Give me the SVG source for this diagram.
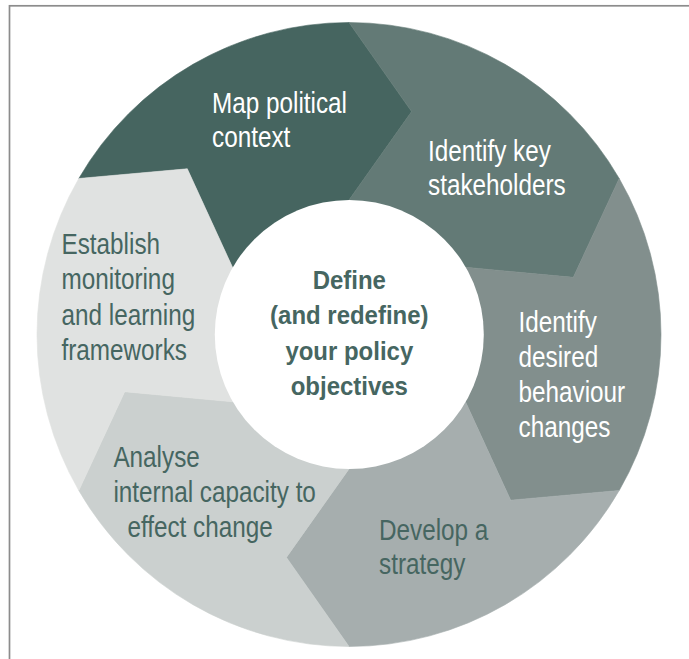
<svg xmlns="http://www.w3.org/2000/svg" width="689" height="659" viewBox="0 0 689 659">
<style>
.seg{stroke-width:0.6;stroke-linejoin:round}
.lbl{font-family:"Liberation Sans",Arial,sans-serif;font-size:30px}
.w{fill:#ffffff}
.d{fill:#466661}
.ctr{font-family:"Liberation Sans",Arial,sans-serif;font-size:25.5px;font-weight:bold;fill:#466661;text-anchor:middle}
</style>
<rect x="9.5" y="5.8" width="700" height="700" fill="none" stroke="#8c8c8c" stroke-width="1.7"/>
<g id="connectors"/>
<g id="node-map">
<path class="seg" fill="#466560" stroke="#466560" d="M78.8,178.5 A312,312 0 0 1 349,22.5 L411.6,111.6 L349,200 L232.5,267.25 L187.3,168.8 Z"/>
<text class="lbl w" transform="translate(212,113.3) scale(0.81,1)"><tspan x="0" y="0">Map political</tspan><tspan x="0" dy="34">context</tspan></text>
</g>
<g id="node-stakeholders">
<path class="seg" fill="#637a76" stroke="#637a76" d="M349,22.5 A312,312 0 0 1 619.2,178.5 L573.3,277.3 L465.5,267.25 L349,200 L411.6,111.6 Z"/>
<text class="lbl w" transform="translate(428,161) scale(0.81,1)"><tspan x="0" y="0">Identify key</tspan><tspan x="0" dy="34">stakeholders</tspan></text>
</g>
<g id="node-behaviour">
<path class="seg" fill="#828f8d" stroke="#828f8d" d="M619.2,178.5 A312,312 0 0 1 619.2,490.5 L510.7,500.2 L465.5,401.75 L465.5,267.25 L573.3,277.3 Z"/>
<text class="lbl w" transform="translate(518.5,331.5) scale(0.81,1)"><tspan x="0" y="0">Identify</tspan><tspan x="0" dy="35.2">desired</tspan><tspan x="0" dy="35.2">behaviour</tspan><tspan x="0" dy="35.2">changes</tspan></text>
</g>
<g id="node-strategy">
<path class="seg" fill="#a6aeae" stroke="#a6aeae" d="M619.2,490.5 A312,312 0 0 1 349,646.5 L286.4,557.4 L349,469 L465.5,401.75 L510.7,500.2 Z"/>
<text class="lbl d" transform="translate(379,539.5) scale(0.81,1)"><tspan x="0" y="0">Develop a</tspan><tspan x="0" dy="34.5">strategy</tspan></text>
</g>
<g id="node-capacity">
<path class="seg" fill="#cbd0cf" stroke="#cbd0cf" d="M349,646.5 A312,312 0 0 1 78.8,490.5 L124.7,391.7 L232.5,401.75 L349,469 L286.4,557.4 Z"/>
<text class="lbl d" transform="translate(113.4,466.7) scale(0.81,1)"><tspan x="0" y="0">Analyse</tspan><tspan x="0" dy="35">internal capacity to</tspan><tspan x="17.3" dy="35">effect change</tspan></text>
</g>
<g id="node-monitoring">
<path class="seg" fill="#e0e2e1" stroke="#e0e2e1" d="M78.8,490.5 A312,312 0 0 1 78.8,178.5 L187.3,168.8 L232.5,267.25 L232.5,401.75 L124.7,391.7 Z"/>
<text class="lbl d" transform="translate(61.5,254) scale(0.81,1)"><tspan x="0" y="0">Establish</tspan><tspan x="0" dy="35.5">monitoring</tspan><tspan x="0" dy="35.5">and learning</tspan><tspan x="0" dy="35.5">frameworks</tspan></text>
</g>
<g id="node-center">
<circle cx="349.3" cy="334.5" r="134.5" fill="#ffffff"/>
<text class="ctr" transform="translate(349.3,289) scale(0.94,1)"><tspan x="0" y="0">Define</tspan><tspan x="0" dy="35.5">(and redefine)</tspan><tspan x="0" dy="35.5">your policy</tspan><tspan x="0" dy="35.5">objectives</tspan></text>
</g>
</svg>
